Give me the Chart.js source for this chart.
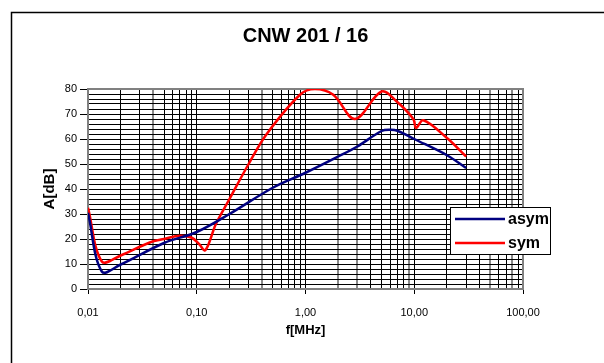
<!DOCTYPE html>
<html>
<head>
<meta charset="utf-8">
<script src="https://cdn.jsdelivr.net/npm/chart.js@4.4.0/dist/chart.umd.min.js"></script>
<style>
    html, body { margin: 0; padding: 0; background: #ffffff; }
    #wrap { width: 604px; height: 363px; }
</style>
</head>
<body>
<div id="wrap"><canvas id="Chart1" width="604" height="363"></canvas></div>
<script>
// CNW 201 / 16 - damping over frequency

const asymFreq = [0.01, 0.0134, 0.02, 0.05, 0.1, 0.2, 0.5, 1, 2, 3, 5, 6, 7, 10, 20, 30];
const asymDb   = [30.5, 7, 9.8, 18.4, 22.8, 30, 40.5, 46.5, 53, 57, 63.2, 63.7, 63.3, 60, 53.5, 48.4];

const symFreq = [0.01, 0.0134, 0.02, 0.037, 0.05, 0.07, 0.09, 0.105, 0.12, 0.15, 0.2, 0.3, 0.44, 0.89, 1.22, 1.8, 2.85, 5, 6.9, 9.8, 10.4, 12.1, 20, 30];
const symDb   = [32.5, 11, 13.4, 18.6, 20, 21.3, 20.5, 18, 15.5, 26, 36, 50, 62, 77.7, 80, 77.7, 68, 79, 75, 68, 64.4, 67.5, 60.4, 53];

const decades = [0.01, 0.1, 1, 10, 100];
const decadeLabels = ['0,01', '0,10', '1,00', '10,00', '100,00'];
const yMajor = [0, 10, 20, 30, 40, 50, 60, 70, 80];

// grid positions: 1..9 per decade on x, every 2 dB on y
const xGrid = [];
for (let i = 0; i < decades.length - 1; i++) {
    for (let k = 1; k <= 9; k++) {
        xGrid.push(Number((decades[i] * k).toPrecision(6)));
    }
}
xGrid.push(100);
const yGrid = [];
for (let v = 0; v <= 80; v += 2) yGrid.push(v);

// lines that come out grey/thick in the original picture
const greyX = [0.04, 0.4, 2, 3, 9, 50, 80];

const FONT = "'Liberation Sans', Arial, sans-serif";

const toPoints = (xs, ys) => xs.map((x, i) => ({x: x, y: ys[i]}));

const framePlugin = {
    id: 'frame',
    beforeDraw(chart) {
        const c = chart.ctx;
        c.save();
        c.fillStyle = '#ffffff';
        c.fillRect(0, 0, chart.width, chart.height);
        c.strokeStyle = '#000000';
        c.lineWidth = 1.5;
        c.strokeRect(11.5, 12.5, 800, 600);
        c.restore();
    },
    beforeDatasetsDraw(chart) {
        const a = chart.chartArea;
        const c = chart.ctx;
        c.save();
        c.strokeStyle = '#808080';
        c.lineWidth = 2;
        c.strokeRect(a.left, a.top, a.right - a.left, a.bottom - a.top);
        c.restore();
    },
    afterDraw(chart) {
        // legend box sits over the right edge of the plot
        const c = chart.ctx;
        c.save();
        c.fillStyle = '#ffffff';
        c.fillRect(450, 207, 101, 48);
        c.strokeStyle = '#000000';
        c.lineWidth = 1;
        c.strokeRect(450.5, 207.5, 100, 47);
        c.font = 'bold 16px ' + FONT;
        c.textBaseline = 'middle';
        chart.data.datasets.forEach((ds, i) => {
            const y = 219 + i * 24;
            c.strokeStyle = ds.borderColor;
            c.lineWidth = 2.5;
            c.beginPath();
            c.moveTo(455, y);
            c.lineTo(505, y);
            c.stroke();
            c.fillStyle = '#000000';
            c.fillText(ds.label, 508, y + 1);
        });
        c.restore();
    }
};

const ctx1 = document.getElementById('Chart1');
const myChart1 = new Chart(ctx1, {
    type: 'line',
    data: {
        datasets: [{
            label: 'asym',
            data: toPoints(asymFreq, asymDb),
            borderColor: '#000080',
            borderWidth: 2.5,
            pointRadius: 0,
            tension: 0.35,
            fill: false
        },
            {
                label: 'sym',
                data: toPoints(symFreq, symDb),
                borderColor: '#ff0000',
                borderWidth: 2.5,
                pointRadius: 0,
                tension: 0.35,
                fill: false
            }
        ]
    },
    options: {
        responsive: false,
        animation: false,
        layout: {
            padding: {left: 38, right: 81, top: 0, bottom: 0}
        },
        scales: {
            x: {
                type: 'logarithmic',
                min: 0.01,
                max: 100,
                afterBuildTicks: (axis) => {
                    axis.ticks = xGrid.map(v => ({value: v}));
                },
                afterFit: (axis) => {
                    axis.height = 74;
                },
                ticks: {
                    autoSkip: false,
                    maxRotation: 0,
                    padding: 12,
                    color: '#000000',
                    font: {family: FONT, size: 11},
                    callback: (value) => {
                        const i = decades.indexOf(value);
                        return i >= 0 ? decadeLabels[i] : '';
                    }
                },
                grid: {
                    color: (c) => (c.tick && greyX.includes(c.tick.value)) ? '#8a8a8a' : '#000000',
                    lineWidth: (c) => (c.tick && greyX.includes(c.tick.value)) ? 2 : 1,
                    tickColor: (c) => (c.tick && decades.includes(c.tick.value)) ? '#000000' : 'rgba(0,0,0,0)',
                    tickWidth: 1,
                    tickLength: 5
                },
                border: {color: '#808080', width: 2},
                title: {
                    display: true,
                    text: 'f[MHz]',
                    color: '#000000',
                    font: {family: FONT, size: 13, weight: 'bold'},
                    padding: {top: 4, bottom: 25}
                }
            },
            y: {
                type: 'linear',
                min: 0,
                max: 80,
                afterBuildTicks: (axis) => {
                    axis.ticks = yGrid.map(v => ({value: v}));
                },
                afterFit: (axis) => {
                    axis.width = 50;
                },
                ticks: {
                    autoSkip: false,
                    padding: 3,
                    color: '#000000',
                    font: {family: FONT, size: 11},
                    callback: (value) => yMajor.includes(value) ? String(value) : ''
                },
                grid: {
                    color: '#000000',
                    lineWidth: 1,
                    tickColor: (c) => (c.tick && yMajor.includes(c.tick.value)) ? '#000000' : 'rgba(0,0,0,0)',
                    tickWidth: 1,
                    tickLength: 8
                },
                border: {color: '#808080', width: 2},
                title: {
                    display: true,
                    text: 'A[dB]',
                    color: '#000000',
                    font: {family: FONT, size: 15, weight: 'bold'},
                    padding: {top: 3, bottom: 4}
                }
            }
        },
        plugins: {
            legend: {display: false},
            tooltip: {enabled: false},
            title: {
                display: true,
                fullSize: false,
                text: 'CNW 201 / 16',
                color: '#000000',
                font: {family: FONT, size: 20, weight: 'bold'},
                padding: {top: 24, bottom: 41}
            }
        }
    },
    plugins: [framePlugin]
});
</script>
</body>
</html>
